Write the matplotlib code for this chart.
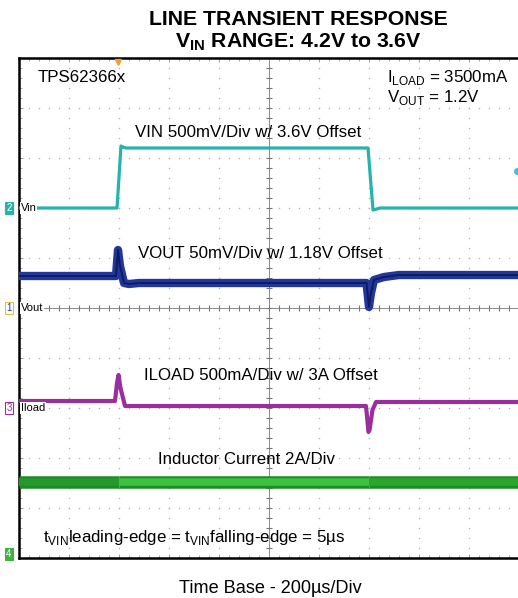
import numpy as np
import matplotlib.pyplot as plt

plt.rcParams['font.family'] = ['Liberation Sans', 'DejaVu Sans']
plt.rcParams['mathtext.fontset'] = 'custom'
plt.rcParams['mathtext.rm'] = 'Liberation Sans'
plt.rcParams['mathtext.bf'] = 'Liberation Sans:bold'

W, H = 518, 598

# time in divisions (200 us/div)
t_vin = [0, 1.96, 2.04, 2.08, 2.14, 6.98, 7.08, 7.12, 7.22, 10]
vin_v = [3.6, 3.6, 4.22, 4.21, 4.2, 4.2, 3.58, 3.585, 3.6, 3.6]

t_vout = [0, 1.94, 1.98, 2.02, 2.1, 2.2, 2.4, 6.95, 7.0, 7.04, 7.1, 7.3, 7.6, 10]
vout_v = [1.212, 1.212, 1.238, 1.222, 1.205, 1.204, 1.205, 1.205, 1.181, 1.195, 1.208, 1.211, 1.213, 1.213]

t_iload = [0, 1.92, 1.96, 1.99, 2.03, 2.12, 6.94, 6.99, 7.01, 7.07, 7.14, 10]
iload_a = [3.07, 3.07, 3.25, 3.33, 3.2, 3.02, 3.02, 2.76, 2.78, 2.98, 3.06, 3.06]

t_ind = [0, 2.0, 7.0, 10]
ind_a = [2.85, 2.85, 2.85, 2.85]

# channel scale / offset (div position of each channel marker)
vin_div = (np.array(vin_v) - 3.6) / 0.5 + 2
vout_div = (np.array(vout_v) - 1.18) / 0.05
iload_div = (np.array(iload_a) - 3.0) / 0.5 - 2
ind_div = np.array(ind_a) / 2.0 - 4.9


def px(x, y):
    return x / W, 1 - y / H


fig = plt.figure(figsize=(W / 100, H / 100), dpi=100)
ax = fig.add_axes([19 / W, 1 - 558 / H, 500 / W, 500 / H])
ax.set_xlim(0, 10)
ax.set_ylim(-5, 5)

# scope graticule
sub = np.arange(0, 10.01, 0.2)
for g in range(1, 10):
    if g == 5:
        continue
    ax.plot(np.full_like(sub, g), sub - 5, ls='none', marker='o', ms=1.1,
            mfc='#b4b4b4', mec='none', zorder=1)
for g in range(-4, 5):
    if g == 0:
        continue
    ax.plot(sub, np.full_like(sub, g), ls='none', marker='o', ms=1.1,
            mfc='#b4b4b4', mec='none', zorder=1)
ax.axvline(5, color='#8a8a8a', lw=0.7, zorder=1)
ax.axhline(0, color='#8a8a8a', lw=0.7, zorder=1)
ax.plot(np.full_like(sub, 5), sub - 5, ls='none', marker='_', ms=4.5,
        mec='#777777', mew=0.8, zorder=1)
ax.plot(sub, np.zeros_like(sub), ls='none', marker='|', ms=4.5,
        mec='#777777', mew=0.8, zorder=1)

ax.set_xticks(range(11))
ax.set_yticks(range(-5, 6))
ax.set_xticks(sub, minor=True)
ax.set_yticks(sub - 5, minor=True)
ax.tick_params(which='both', direction='in', top=True, right=False,
               labelbottom=False, labelleft=False, color='#999999')
ax.tick_params(which='major', length=3, width=0.7)
ax.tick_params(which='minor', length=2, width=0.6)
for s in ax.spines.values():
    s.set_linewidth(1.8)
    s.set_color('black')

# traces
ax.plot(t_vin, vin_div, color='#25b3ad', lw=2.3, zorder=3)

ax.plot(t_vout, vout_div, color='#22379a', lw=6, zorder=3)
ax.plot(t_vout, vout_div, color='#101a64', lw=1.4, zorder=3)

ax.plot(t_iload, iload_div, color='#9b2e9e', lw=3, zorder=3)

ind_cols = ['#249a2c', '#3cc23c', '#2aa52e']
for i, c in enumerate(ind_cols):
    ax.plot(t_ind[i:i + 2], ind_div[i:i + 2], color='#1d8a26', lw=9,
            solid_capstyle='butt', zorder=3)
    ax.plot(t_ind[i:i + 2], ind_div[i:i + 2], color=c, lw=5.5,
            solid_capstyle='butt', zorder=3)

# trigger markers
ax.plot([1.98], [4.93], marker='v', ms=5, color='#f0a030', clip_on=False, zorder=5)
ax.plot([9.96], [2.74], marker='o', ms=4, color='#40c0e0', clip_on=False, zorder=5)

# channel markers on the left
chans = [(2, 'Vin', '#25b3ad', 'white', '#25b3ad'),
         (0, 'Vout', 'white', '#2040a0', '#d8c040'),
         (-2, 'Iload', 'white', '#9b2e9e', '#9b2e9e'),
         (-4.92, 'Icoil', '#40b040', 'white', '#40b040')]
for i, (lvl, name, fc, tc, ec) in enumerate(chans):
    num = ['2', '1', '3', '4'][i]
    ax.text(-0.2, lvl, num, ha='center', va='center', fontsize=7, color=tc,
            clip_on=False, zorder=5,
            bbox=dict(boxstyle='square,pad=0.12', fc=fc, ec=ec, lw=0.8))
    if name != 'Icoil':
        ax.text(0.04, lvl, name, ha='left', va='center', fontsize=8,
                color='black', zorder=5,
                bbox=dict(boxstyle='square,pad=0.05', fc='white', ec='none'))

# annotations
fs = 12.2
fig.text(*px(38, 82), 'TPS62366x', fontsize=fs, va='baseline')
fig.text(*px(387, 82), r'I$_\mathrm{LOAD}$ = 3500mA', fontsize=fs, va='baseline')
fig.text(*px(387, 102), r'V$_\mathrm{OUT}$ = 1.2V', fontsize=fs, va='baseline')
fig.text(*px(135, 137), 'VIN 500mV/Div w/ 3.6V Offset', fontsize=fs, va='baseline')
fig.text(*px(138, 258), 'VOUT 50mV/Div w/ 1.18V Offset', fontsize=fs, va='baseline')
fig.text(*px(144, 380), 'ILOAD 500mA/Div w/ 3A Offset', fontsize=fs, va='baseline')
fig.text(*px(158, 464), 'Inductor Current 2A/Div', fontsize=fs, va='baseline')
fig.text(*px(43, 542), r't$_\mathrm{VIN}$leading-edge = t$_\mathrm{VIN}$falling-edge = 5µs',
         fontsize=fs, va='baseline')
fig.text(*px(270, 593), 'Time Base - 200µs/Div', fontsize=13.1, ha='center', va='baseline')

fig.text(*px(298, 25), 'LINE TRANSIENT RESPONSE', fontsize=15.3, fontweight='bold',
         ha='center', va='baseline')
fig.text(*px(298, 47), r'V$_\mathbf{IN}$ RANGE: 4.2V to 3.6V', fontsize=15.3,
         fontweight='bold', ha='center', va='baseline')

fig.savefig('out.png', dpi=100)
